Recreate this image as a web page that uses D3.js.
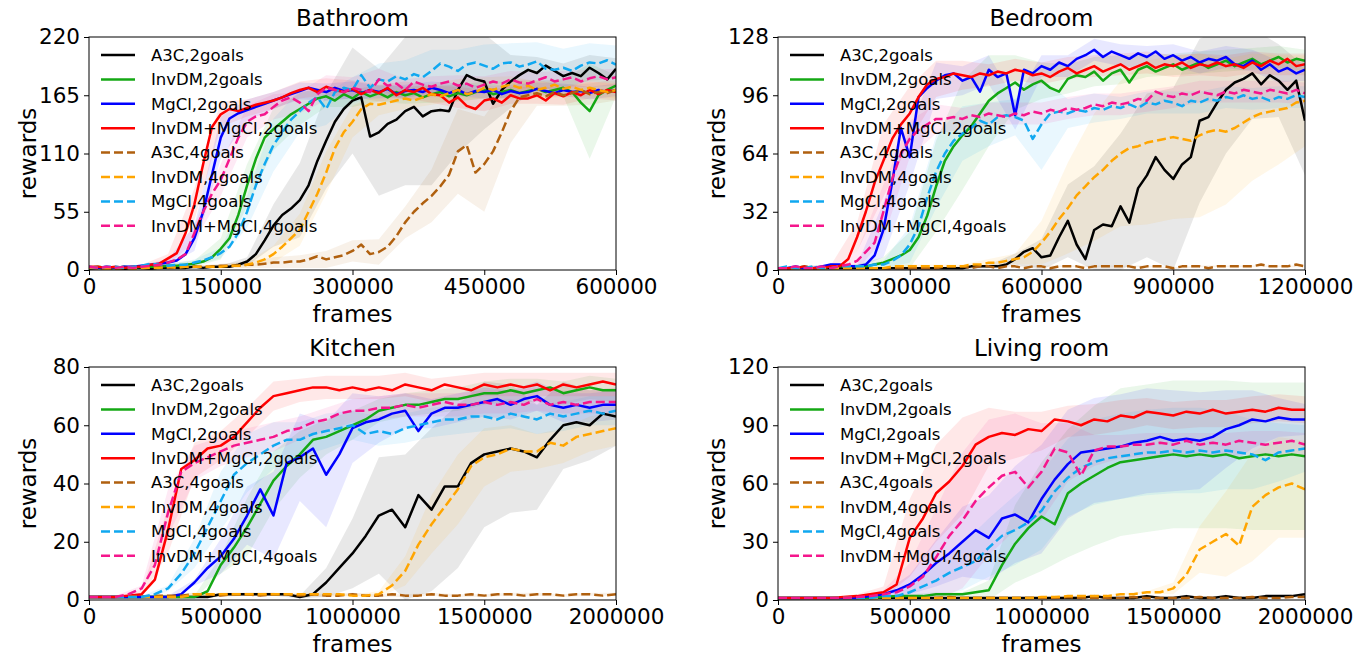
<!DOCTYPE html>
<html><head><meta charset="utf-8">
<script src="https://cdn.jsdelivr.net/npm/d3@7"></script>
<style>body{margin:0;background:#fff}svg{display:block}text{font-family:"DejaVu Sans",sans-serif;fill:#000}</style>
</head><body><svg id="c" width="1371" height="658"></svg>
<script>
// ---------- categories / legend ----------
const seriesNames = ["A3C,2goals","InvDM,2goals","MgCl,2goals","InvDM+MgCl,2goals","A3C,4goals","InvDM,4goals","MgCl,4goals","InvDM+MgCl,4goals"];
const seriesColors = ["#000000","#14a814","#0000ff","#ff0000","#b0600f","#ffa500","#10a8f0","#f5168c"];
const seriesDashed = [false,false,false,false,true,true,true,true];
const panelTitles = ["Bathroom","Bedroom","Kitchen","Living room"];
const xMaxes = [600000,1200000,2000000,2000000];
const xTickValues = [[0,150000,300000,450000,600000],[0,300000,600000,900000,1200000],[0,500000,1000000,1500000,2000000],[0,500000,1000000,1500000,2000000]];
const yTickValues = [[0,55,110,165,220],[0,32,64,96,128],[0,20,40,60,80],[0,30,60,90,120]];

// ---------- Bathroom (61 samples, every 10000 frames) ----------
const bath_k2 = [1,2,1,2,1,2,2,1,2,2, 2,2,3,2,3,3,3,5,8,15, 28,42,52,58,66,80,103,122,140,152, 160,163,126,130,138,142,150,154,145,150, 151,150,170,184,180,178,157,170,178,184, 189,186,193,188,183,186,183,191,186,180, 190];
const bath_g2 = [2,3,2,2,3,2,3,3,3,4, 4,5,6,8,12,20,30,52,80,105, 125,133,140,147,152,157,162,164,160,166, 162,168,164,167,163,168,165,167,163,166, 168,164,167,165,168,170,166,168,170,167, 169,171,168,170,172,168,158,150,165,170, 174];
const bath_b2 = [2,2,3,2,3,3,4,5,6,7, 9,15,30,55,90,125,143,148,151,154, 157,160,163,166,169,172,170,168,172,169, 170,167,170,168,171,166,169,170,168,172, 170,167,170,166,169,168,170,166,169,167, 168,171,169,167,170,168,169,167,170,168, 170];
const bath_r2 = [3,3,2,3,2,3,3,5,6,11, 16,35,62,100,135,147,152,150,153,156, 158,160,163,167,170,172,168,173,170,168, 171,166,170,167,172,165,170,168,172,166, 165,158,163,155,152,160,162,158,165,162, 162,165,160,167,164,168,165,170,166,170, 168];
const bath_n4 = [2,2,2,1,2,2,2,2,3,2, 3,3,3,3,3,4,4,4,5,5, 6,7,7,8,8,10,13,10,12,14, 18,24,15,17,22,32,45,55,63,70, 79,90,112,118,92,100,112,130,150,163, 165,167,164,168,165,167,170,166,168,167, 170];
const bath_o4 = [2,2,1,2,2,1,2,2,2,3, 2,3,3,3,3,3,4,4,5,7, 10,15,22,30,38,55,72,92,115,130, 140,152,157,156,158,160,162,160,163,166, 164,167,170,166,168,172,170,173,175,172, 174,170,172,175,171,173,170,172,170,168, 170];
const bath_c4 = [3,2,3,3,2,3,4,6,5,4, 5,5,7,9,12,16,22,35,55,80, 100,118,130,142,150,158,163,152,168,172, 170,184,172,180,178,183,180,185,182,188, 195,192,188,194,196,193,190,195,196,192, 194,197,190,189,191,188,193,196,195,198, 194];
const bath_p4 = [3,2,3,2,3,2,3,4,5,7, 10,15,35,55,72,85,105,125,140,145, 147,154,160,163,158,150,166,172,170,168, 172,170,168,180,174,176,170,178,175,173, 176,178,174,176,172,175,178,176,180,177, 176,179,182,178,180,182,178,181,183,180, 182];
// spread (half width of shaded band), 21 samples every 30000 frames
const bathS_k2 = [1,1,1,1,1,1,4,20,35,45,50,60,70,70,60,45,25,15,12,12,10];
const bathS_g2 = [1,1,1,2,3,10,20,20,15,10,8,8,8,8,8,8,8,8,8,45,10];
const bathS_b2 = [1,1,1,3,12,20,10,8,8,8,8,6,6,6,6,6,6,6,6,6,6];
const bathS_r2 = [1,1,2,4,15,12,8,8,8,8,8,8,8,8,10,10,8,8,8,8,8];
const bathS_n4 = [1,1,1,1,1,2,3,5,6,8,10,12,15,25,40,45,30,12,10,10,10];
const bathS_o4 = [1,1,1,1,1,2,3,8,15,20,15,10,10,10,10,10,8,8,8,8,8];
const bathS_c4 = [1,1,1,2,3,5,15,25,20,15,12,15,18,20,20,20,18,18,18,18,18];
const bathS_p4 = [1,1,1,2,8,15,15,12,10,12,10,10,10,10,10,8,8,8,8,8,8];

// ---------- Bedroom (61 samples, every 20000 frames) ----------
const bed_k2 = [1,1,1,1,1,1,1,1,1,1, 1,1,1,1,1,1,1,1,1,1, 1,1,2,2,2,2,3,6,10,12, 7,8,18,27,14,6,22,25,24,35, 26,45,52,62,55,50,58,62,82,84, 92,99,103,105,108,102,107,104,99,104, 82];
const bed_g2 = [1,1,1,2,1,1,2,2,2,2, 2,3,4,6,8,11,18,30,46,60, 68,74,79,86,93,97,100,103,99,102, 104,100,98,105,107,106,109,104,108,110, 103,110,112,109,111,113,110,112,114,111, 113,115,112,114,116,113,115,117,114,116, 115];
const bed_b2 = [1,1,2,1,1,2,3,3,2,2, 3,8,22,48,78,62,95,100,104,107, 108,104,106,98,110,106,108,85,110,108, 112,110,114,112,116,118,121,117,120,118, 116,119,117,120,116,118,115,117,114,116, 115,117,113,112,115,110,113,109,111,108, 110];
const bed_r2 = [1,1,1,2,1,1,2,2,6,18, 32,48,60,72,80,86,95,102,105,106, 108,107,106,108,107,109,108,110,109,107, 108,106,109,111,108,110,112,109,111,113, 110,112,114,111,113,112,114,111,113,112, 114,112,113,111,114,112,115,113,116,112, 113];
const bed_n4 = [1,1,1,1,1,1,1,1,1,1, 1,1,1,1,1,1,1,1,1,2, 2,2,1,2,2,1,2,2,1,2, 2,1,2,2,2,1,2,2,2,2, 2,1,2,2,2,1,2,2,2,1, 2,2,2,2,2,3,2,2,2,3, 2];
const bed_o4 = [1,1,1,1,1,1,1,1,1,1, 1,1,1,2,2,2,2,2,2,2, 2,2,3,3,4,4,5,6,7,10, 15,21,28,34,41,46,51,55,60,64, 67,68,70,71,72,73,72,71,74,76, 77,76,78,81,84,86,87,88,89,92, 93];
const bed_c4 = [1,2,1,1,2,1,1,2,2,2, 2,3,3,5,8,14,24,40,54,64, 71,75,78,82,80,84,85,84,82,72, 80,86,87,86,88,87,89,88,90,89, 91,89,92,91,93,92,90,93,92,94, 93,95,94,96,94,95,93,95,94,96, 95];
const bed_p4 = [1,1,2,1,1,2,1,2,3,5, 10,15,32,50,64,72,77,80,83,83, 84,83,85,84,86,85,84,86,85,87, 86,88,87,89,88,89,91,90,92,91, 92,94,93,98,96,95,97,96,98,97, 96,98,97,99,98,97,99,98,97,99, 97];
// spread, 21 samples every 60000 frames
const bedS_k2 = [0.5,0.5,0.5,0.5,0.5,0.5,0.5,0.5,1,3,10,20,35,40,45,50,45,35,25,20,30];
const bedS_g2 = [0.5,0.5,0.5,1,3,10,25,30,25,15,10,8,8,8,6,6,6,6,6,6,6];
const bedS_b2 = [0.5,0.5,0.5,1,15,15,10,8,8,8,6,6,6,6,6,6,6,6,6,6,6];
const bedS_r2 = [0.5,0.5,0.5,8,20,15,10,8,6,6,6,6,6,6,6,6,6,6,6,6,6];
const bedS_n4 = [0.5,0.5,0.5,0.5,0.5,0.5,0.5,0.5,0.5,0.5,0.5,0.5,0.5,0.5,0.5,0.5,0.5,0.5,0.5,0.5,0.5];
const bedS_o4 = [0.5,0.5,0.5,0.5,0.5,1,1,1,2,3,12,25,35,40,45,45,45,40,35,30,25];
const bedS_c4 = [0.5,0.5,0.5,1,2,10,20,15,12,10,25,8,8,6,6,6,6,6,6,6,6];
const bedS_p4 = [0.5,0.5,0.5,5,15,10,8,6,6,6,6,6,6,6,6,6,6,6,6,6,6];

// ---------- Kitchen (41 samples, every 50000 frames) ----------
const kit_k2 = [1,1,1,1,1,1,1,1,1,1, 2,2,2,2,2,2,1,2,6,11, 16,22,29,31,25,36,31,39,39,47, 50,51,52,51,49,55,60,61,60,64, 63];
const kit_g2 = [1,1,1,1,1,1,1,1,1,3, 12,18,25,33,41,46,50,55,56,58, 60,62,65,66,67,67,68,69,69,70, 71,71,72,71,72,73,71,72,73,72, 72];
const kit_b2 = [1,1,1,1,1,1,1,2,6,11, 15,21,29,38,29,47,49,52,43,50, 59,61,62,64,65,58,64,66,66,67, 68,69,67,69,70,67,66,67,66,67, 67];
const kit_r2 = [1,1,1,1.5,2,7,24,45,48,52, 53,56,61,66,70,71,72,73,73,72, 73,72,73,72,74,73,72,74,73,72, 74,73,74,73,74,72,74,73,74,75, 74];
const kit_n4 = [1,1,1,1,1,1.5,1.5,1.5,2,2, 1.5,2,2,1.5,2,2,1.5,2,1.5,1.5, 2,1.5,1.5,2,1.5,1.5,2,1.5,1.5,2, 1.5,2,2,1.5,2,2,1.5,2,2,1.5, 2];
const kit_o4 = [1,1,1,1,1,1,1,1,2,2, 2,2,2,2,2,2,2,2,2,2, 1.5,1.5,2,5,10,19,26,32,38,46, 49,50,52,51,51,54,53,56,57,58, 59];
const kit_c4 = [1,1,1,1,1,2,4,9,16,25, 34,43,47,50,53,55,55,57,58,59, 60,57,58,57,59,60,61,62,62,63, 63,62,64,63,62,64,63,64,65,64, 65];
const kit_p4 = [1,1,1,2,4,12,30,44,47,49, 51,53,54,55,56,58,59,61,62,64, 65,65,66,66,67,66,67,68,67,67, 68,67,68,67,69,67,68,67,68,68, 68];
// spread, 21 samples every 100000 frames
const kitS_k2 = [0.5,0.5,0.5,0.5,0.5,0.5,0.5,0.5,0.5,5,12,20,25,28,28,25,22,18,15,12,10];
const kitS_g2 = [0.5,0.5,0.5,0.5,0.5,3,10,10,8,6,5,4,4,4,4,4,4,4,4,4,4];
const kitS_b2 = [0.5,0.5,0.5,0.5,1,6,10,15,15,18,12,8,6,5,5,5,5,5,5,5,5];
const kitS_r2 = [0.5,0.5,1,8,6,5,5,5,4,4,4,4,4,4,4,4,4,4,4,4,4];
const kitS_n4 = [0.5,0.5,0.5,0.5,0.5,0.5,0.5,0.5,0.5,0.5,0.5,0.5,0.5,0.5,0.5,0.5,0.5,0.5,0.5,0.5,0.5];
const kitS_o4 = [0.5,0.5,0.5,0.5,0.5,0.5,0.5,0.5,0.5,0.5,0.5,1,5,10,12,10,8,6,6,6,6];
const kitS_c4 = [0.5,0.5,0.5,1,5,10,10,8,6,6,5,5,5,5,5,5,5,5,5,5,5];
const kitS_p4 = [0.5,0.5,1,8,6,5,5,5,4,4,4,4,4,4,4,4,4,4,4,4,4];

// ---------- Living room (41 samples, every 50000 frames) ----------
const liv_k2 = [1,1,1,1,1,1,1,1,1,1, 1,1,1,1,1,1,1,1,1,1, 1,1,1,1,2,1,1,1,2,1, 1,2,1,1,2,1,1,2,2,2, 3];
const liv_g2 = [1,1,1,1,1,1,1,1,1.5,2, 2,2,3,3,3,4,5,18,29,37, 43,39,55,60,64,68,71,72,73,74, 75,74,75,74,75,73,74,75,74,75, 74];
const liv_b2 = [1,1,1,1,1,1,1,2,3,5, 8,13,19,24,30,36,32,42,44,40, 52,62,70,76,77,78,79,81,82,84, 82,83,82,84,88,90,93,92,94,93, 93];
const liv_r2 = [1,1,1,1,1,1.5,2,3,4,8, 32,42,55,61,69,80,84,86,85,88, 87,93,92,90,93,92,95,94,97,96, 95,97,96,98,96,97,98,97,99,98, 98];
const liv_n4 = [1,1,1,1,1,1,1,1,1,1, 1,1,1,1.5,1,1,1,1,1,1, 1,1,1.5,1,1,1,1,1.5,1,1, 1,1,1.5,1,1,1,1.5,1,1,1.5, 1.5];
const liv_o4 = [1,1,1,1,1,1,1,1,1,1, 1,1,1,1,1,1,1,1,1,1, 1.5,1.5,2,2,2,2,3,3,4,4, 6,13,26,30,34,28,48,54,58,60, 57];
const liv_c4 = [1,1,1,1,1,1,1,1,2,2, 4,7,10,14,17,20,27,33,36,40, 46,56,63,68,71,73,74,75,76,76, 77,76,77,76,77,76,75,72,76,77, 78];
const liv_p4 = [1,1,1,1,1,1,1.5,2,3,4, 7,12,22,33,41,51,58,64,66,58, 66,78,76,64,77,79,79,80,80,81, 80,82,80,81,80,82,81,80,81,82, 80];
// spread, 21 samples every 100000 frames
const livS_k2 = [0.5,0.5,0.5,0.5,0.5,0.5,0.5,0.5,0.5,0.5,0.5,0.5,0.5,0.5,0.5,0.5,0.5,0.5,0.5,0.5,0.5];
const livS_g2 = [0.5,0.5,0.5,0.5,0.5,1,1,1,5,20,28,33,36,38,38,38,38,38,38,38,38];
const livS_b2 = [0.5,0.5,0.5,0.5,1,5,12,18,22,25,28,28,27,27,27,26,25,20,15,10,8];
const livS_r2 = [0.5,0.5,0.5,1,3,20,25,25,15,12,10,8,8,8,7,7,7,7,7,7,7];
const livS_n4 = [0.5,0.5,0.5,0.5,0.5,0.5,0.5,0.5,0.5,0.5,0.5,0.5,0.5,0.5,0.5,0.5,0.5,0.5,0.5,0.5,0.5];
const livS_o4 = [0.5,0.5,0.5,0.5,0.5,0.5,0.5,0.5,0.5,0.5,0.5,0.5,0.5,0.5,0.5,3,12,22,28,26,25];
const livS_c4 = [0.5,0.5,0.5,0.5,1,3,8,12,15,18,20,20,22,22,22,22,22,20,18,15,12];
const livS_p4 = [0.5,0.5,0.5,0.5,2,12,25,35,35,30,25,15,8,6,6,6,6,6,6,6,6];

// ---------- assemble ----------
const panelData = [
  [bath_k2,bath_g2,bath_b2,bath_r2,bath_n4,bath_o4,bath_c4,bath_p4],
  [bed_k2,bed_g2,bed_b2,bed_r2,bed_n4,bed_o4,bed_c4,bed_p4],
  [kit_k2,kit_g2,kit_b2,kit_r2,kit_n4,kit_o4,kit_c4,kit_p4],
  [liv_k2,liv_g2,liv_b2,liv_r2,liv_n4,liv_o4,liv_c4,liv_p4]
];
const panelSpread = [
  [bathS_k2,bathS_g2,bathS_b2,bathS_r2,bathS_n4,bathS_o4,bathS_c4,bathS_p4],
  [bedS_k2,bedS_g2,bedS_b2,bedS_r2,bedS_n4,bedS_o4,bedS_c4,bedS_p4],
  [kitS_k2,kitS_g2,kitS_b2,kitS_r2,kitS_n4,kitS_o4,kitS_c4,kitS_p4],
  [livS_k2,livS_g2,livS_b2,livS_r2,livS_n4,livS_o4,livS_c4,livS_p4]
];
const expectedLen = [61,61,41,41];
panelData.forEach((arrs,pi)=>arrs.forEach((a,si)=>{ if(a.length!==expectedLen[pi]) throw new Error("len panel "+pi+" series "+si+" = "+a.length); }));
panelSpread.forEach((arrs,pi)=>arrs.forEach((a,si)=>{ if(a.length!==21) throw new Error("spread len panel "+pi+" series "+si+" = "+a.length); }));

// ---------- layout ----------
const W = 527, H = 233;
const lefts = [89,778,89,778], tops = [37,37,367,367];
const LW = 2.5, DASH = "9,4";
const svg = d3.select("#c");

panelTitles.forEach((title, pi) => {
  const g = svg.append("g").attr("transform", `translate(${lefts[pi]},${tops[pi]})`);
  const xMax = xMaxes[pi];
  const yMax = yTickValues[pi][yTickValues[pi].length-1];
  const x = d3.scaleLinear().domain([0,xMax]).range([0,W]);
  const y = d3.scaleLinear().domain([0,yMax]).range([H,0]);
  const cid = "clip"+pi;
  g.append("clipPath").attr("id",cid).append("rect").attr("width",W).attr("height",H);
  const plot = g.append("g").attr("clip-path",`url(#${cid})`);
  const data = panelData[pi];
  const n = expectedLen[pi];
  // bands
  data.forEach((vals, si) => {
    const sp = panelSpread[pi][si];
    const pts = sp.map((s,j) => {
      const idx = j*(n-1)/(sp.length-1);
      return {f: idx*xMax/(n-1), lo: Math.max(0, vals[idx]-s), hi: vals[idx]+s};
    });
    plot.append("path").datum(pts)
      .attr("d", d3.area().x(d=>x(d.f)).y0(d=>y(d.lo)).y1(d=>y(d.hi)))
      .attr("fill", seriesColors[si]).attr("fill-opacity", 0.09).attr("stroke","none");
  });
  // lines
  data.forEach((vals, si) => {
    const pts = vals.map((v,i)=>({f: i*xMax/(n-1), v}));
    plot.append("path").datum(pts)
      .attr("d", d3.line().x(d=>x(d.f)).y(d=>y(d.v)))
      .attr("fill","none").attr("stroke",seriesColors[si]).attr("stroke-width",LW)
      .attr("stroke-linejoin","round")
      .attr("stroke-dasharray", seriesDashed[si] ? DASH : null);
  });
  // axes
  const xa = g.append("g").attr("transform",`translate(0,${H})`)
    .call(d3.axisBottom(x).tickValues(xTickValues[pi]).tickFormat(d3.format("d")).tickSize(5).tickPadding(4));
  const ya = g.append("g")
    .call(d3.axisLeft(y).tickValues(yTickValues[pi]).tickFormat(d3.format("d")).tickSize(5).tickPadding(4));
  [xa,ya].forEach(a=>{
    a.select(".domain").remove();
    a.selectAll("text").attr("font-size",21.5).attr("font-family","DejaVu Sans").attr("fill","#000");
    a.selectAll("line").attr("stroke","#000");
  });
  g.append("rect").attr("width",W).attr("height",H).attr("fill","none").attr("stroke","#000").attr("stroke-width",1);
  // title & labels
  g.append("text").attr("x",W/2).attr("y",-11).attr("text-anchor","middle").attr("font-size",23).text(title);
  g.append("text").attr("x",W/2).attr("y",H+52).attr("text-anchor","middle").attr("font-size",23).text("frames");
  g.append("text").attr("transform",`translate(-53,${H/2}) rotate(-90)`).attr("text-anchor","middle").attr("font-size",23).text("rewards");
  // legend
  const lg = g.append("g");
  seriesNames.forEach((name, si) => {
    const yy = 18 + si*24.4;
    lg.append("line").attr("x1",12).attr("x2",46).attr("y1",yy).attr("y2",yy)
      .attr("stroke",seriesColors[si]).attr("stroke-width",LW)
      .attr("stroke-dasharray", seriesDashed[si] ? DASH : null);
    lg.append("text").attr("x",62).attr("y",yy).attr("dy","0.35em").attr("font-size",16.5).text(name);
  });
});
</script>
</body></html>
